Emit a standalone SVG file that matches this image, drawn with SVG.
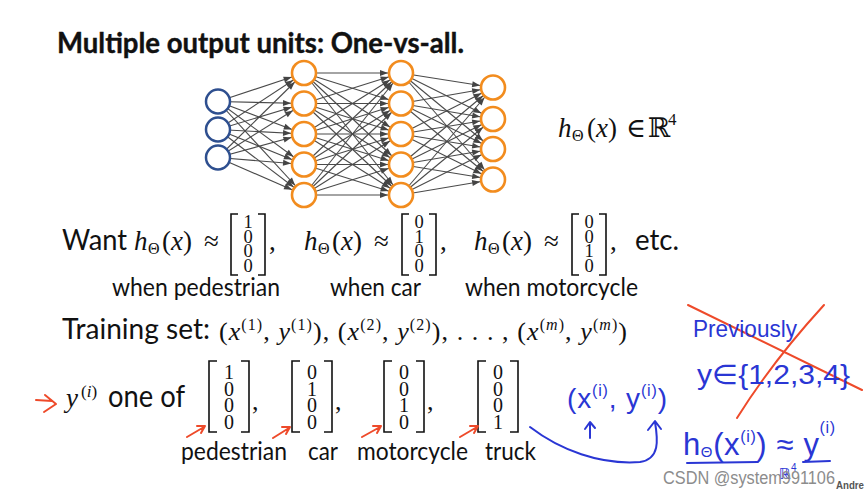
<svg xmlns="http://www.w3.org/2000/svg" width="865" height="496" viewBox="0 0 865 496">
<style>
.s{font-family:Lato,"Open Sans","Liberation Sans",sans-serif;fill:#111}
.m{font-family:"Liberation Serif","DejaVu Serif",serif;fill:#111}
.i{font-style:italic}
.e{stroke:#4a4a4a;stroke-width:1.1;marker-end:url(#ah)}
.in{fill:#fff;stroke:#2e4f8f;stroke-width:2.5}
.hd{fill:#fff;stroke:#f28c1e;stroke-width:2.6}
.br{fill:none;stroke:#111;stroke-width:1.6}
.d1{font-family:"Liberation Serif","DejaVu Serif",serif;font-size:18.5px;fill:#111;text-anchor:middle}
.d2{font-family:"Liberation Serif","DejaVu Serif",serif;font-size:20px;fill:#111;text-anchor:middle}
.hw{font-family:"Liberation Sans","DejaVu Sans",sans-serif;fill:#2a36d4}
.bl{fill:none;stroke:#2a36d4;stroke-width:2;stroke-linecap:round;stroke-linejoin:round}
.rd{fill:none;stroke:#ee4a2a;stroke-width:2;stroke-linecap:round;stroke-linejoin:round}
</style>
<defs>
<marker id="ah" markerUnits="userSpaceOnUse" markerWidth="8" markerHeight="6" refX="21" refY="3" orient="auto" overflow="visible"><path d="M0,0 L8,3 L0,6 z" fill="#444"/></marker>
</defs>
<rect width="865" height="496" fill="#fff"/>
<text class="s" x="57" y="53" font-size="28.5" font-weight="bold" textLength="407" lengthAdjust="spacingAndGlyphs" stroke="#111" stroke-width="0.4">Multiple output units: One-vs-all.</text>

<g id="connectors">
<line class="e" x1="218" y1="101.5" x2="304" y2="73"/><line class="e" x1="218" y1="101.5" x2="304" y2="103.5"/><line class="e" x1="218" y1="101.5" x2="304" y2="134"/><line class="e" x1="218" y1="101.5" x2="304" y2="164.5"/><line class="e" x1="218" y1="101.5" x2="304" y2="195"/>
<line class="e" x1="218" y1="129.5" x2="304" y2="73"/><line class="e" x1="218" y1="129.5" x2="304" y2="103.5"/><line class="e" x1="218" y1="129.5" x2="304" y2="134"/><line class="e" x1="218" y1="129.5" x2="304" y2="164.5"/><line class="e" x1="218" y1="129.5" x2="304" y2="195"/>
<line class="e" x1="218" y1="157.5" x2="304" y2="73"/><line class="e" x1="218" y1="157.5" x2="304" y2="103.5"/><line class="e" x1="218" y1="157.5" x2="304" y2="134"/><line class="e" x1="218" y1="157.5" x2="304" y2="164.5"/><line class="e" x1="218" y1="157.5" x2="304" y2="195"/>
<line class="e" x1="304" y1="73" x2="401" y2="73"/><line class="e" x1="304" y1="73" x2="401" y2="103.5"/><line class="e" x1="304" y1="73" x2="401" y2="134"/><line class="e" x1="304" y1="73" x2="401" y2="164.5"/><line class="e" x1="304" y1="73" x2="401" y2="195"/>
<line class="e" x1="304" y1="103.5" x2="401" y2="73"/><line class="e" x1="304" y1="103.5" x2="401" y2="103.5"/><line class="e" x1="304" y1="103.5" x2="401" y2="134"/><line class="e" x1="304" y1="103.5" x2="401" y2="164.5"/><line class="e" x1="304" y1="103.5" x2="401" y2="195"/>
<line class="e" x1="304" y1="134" x2="401" y2="73"/><line class="e" x1="304" y1="134" x2="401" y2="103.5"/><line class="e" x1="304" y1="134" x2="401" y2="134"/><line class="e" x1="304" y1="134" x2="401" y2="164.5"/><line class="e" x1="304" y1="134" x2="401" y2="195"/>
<line class="e" x1="304" y1="164.5" x2="401" y2="73"/><line class="e" x1="304" y1="164.5" x2="401" y2="103.5"/><line class="e" x1="304" y1="164.5" x2="401" y2="134"/><line class="e" x1="304" y1="164.5" x2="401" y2="164.5"/><line class="e" x1="304" y1="164.5" x2="401" y2="195"/>
<line class="e" x1="304" y1="195" x2="401" y2="73"/><line class="e" x1="304" y1="195" x2="401" y2="103.5"/><line class="e" x1="304" y1="195" x2="401" y2="134"/><line class="e" x1="304" y1="195" x2="401" y2="164.5"/><line class="e" x1="304" y1="195" x2="401" y2="195"/>
<line class="e" x1="401" y1="73" x2="493" y2="87.5"/><line class="e" x1="401" y1="73" x2="493" y2="119"/><line class="e" x1="401" y1="73" x2="493" y2="149"/><line class="e" x1="401" y1="73" x2="493" y2="179.5"/>
<line class="e" x1="401" y1="103.5" x2="493" y2="87.5"/><line class="e" x1="401" y1="103.5" x2="493" y2="119"/><line class="e" x1="401" y1="103.5" x2="493" y2="149"/><line class="e" x1="401" y1="103.5" x2="493" y2="179.5"/>
<line class="e" x1="401" y1="134" x2="493" y2="87.5"/><line class="e" x1="401" y1="134" x2="493" y2="119"/><line class="e" x1="401" y1="134" x2="493" y2="149"/><line class="e" x1="401" y1="134" x2="493" y2="179.5"/>
<line class="e" x1="401" y1="164.5" x2="493" y2="87.5"/><line class="e" x1="401" y1="164.5" x2="493" y2="119"/><line class="e" x1="401" y1="164.5" x2="493" y2="149"/><line class="e" x1="401" y1="164.5" x2="493" y2="179.5"/>
<line class="e" x1="401" y1="195" x2="493" y2="87.5"/><line class="e" x1="401" y1="195" x2="493" y2="119"/><line class="e" x1="401" y1="195" x2="493" y2="149"/><line class="e" x1="401" y1="195" x2="493" y2="179.5"/>
</g>

<g id="in1"><circle class="in" cx="218" cy="101.5" r="12"/></g>
<g id="in2"><circle class="in" cx="218" cy="129.5" r="12"/></g>
<g id="in3"><circle class="in" cx="218" cy="157.5" r="12"/></g>
<g id="h1a"><circle class="hd" cx="304" cy="73" r="12"/></g>
<g id="h1b"><circle class="hd" cx="304" cy="103.5" r="12"/></g>
<g id="h1c"><circle class="hd" cx="304" cy="134" r="12"/></g>
<g id="h1d"><circle class="hd" cx="304" cy="164.5" r="12"/></g>
<g id="h1e"><circle class="hd" cx="304" cy="195" r="12"/></g>
<g id="h2a"><circle class="hd" cx="401" cy="73" r="12"/></g>
<g id="h2b"><circle class="hd" cx="401" cy="103.5" r="12"/></g>
<g id="h2c"><circle class="hd" cx="401" cy="134" r="12"/></g>
<g id="h2d"><circle class="hd" cx="401" cy="164.5" r="12"/></g>
<g id="h2e"><circle class="hd" cx="401" cy="195" r="12"/></g>
<g id="o1"><circle class="hd" cx="493" cy="87.5" r="12"/></g>
<g id="o2"><circle class="hd" cx="493" cy="119" r="12"/></g>
<g id="o3"><circle class="hd" cx="493" cy="149" r="12"/></g>
<g id="o4"><circle class="hd" cx="493" cy="179.5" r="12"/></g>

<text class="m" font-size="27" y="137"><tspan x="558" class="i">h</tspan><tspan x="572" y="141" font-size="16">Θ</tspan><tspan x="587" y="137">(</tspan><tspan class="i">x</tspan><tspan>)</tspan><tspan x="626">∈</tspan><tspan x="648">ℝ</tspan><tspan x="668" y="125" font-size="17">4</tspan></text>

<text class="s" x="62" y="250" font-size="29" textLength="65" lengthAdjust="spacingAndGlyphs">Want</text>
<text class="m" font-size="27" y="250"><tspan x="134" class="i">h</tspan><tspan x="148" y="254" font-size="16">Θ</tspan><tspan x="162" y="250">(</tspan><tspan class="i">x</tspan><tspan>)</tspan><tspan x="204">≈</tspan><tspan x="269">,</tspan></text>
<text class="m" font-size="27" y="250"><tspan x="304" class="i">h</tspan><tspan x="318" y="254" font-size="16">Θ</tspan><tspan x="332" y="250">(</tspan><tspan class="i">x</tspan><tspan>)</tspan><tspan x="374">≈</tspan><tspan x="440">,</tspan></text>
<text class="m" font-size="27" y="250"><tspan x="474" class="i">h</tspan><tspan x="488" y="254" font-size="16">Θ</tspan><tspan x="502" y="250">(</tspan><tspan class="i">x</tspan><tspan>)</tspan><tspan x="544">≈</tspan><tspan x="610">,</tspan></text>
<text class="s" x="635" y="250" font-size="29" textLength="44" lengthAdjust="spacingAndGlyphs">etc.</text>

<path class="br" d="M238,214 H231 V275 H238 M258,214 H265 V275 H258"/>
<text class="d1"><tspan x="248" y="228">1</tspan><tspan x="248" y="242.5">0</tspan><tspan x="248" y="257">0</tspan><tspan x="248" y="271.5">0</tspan></text>
<path class="br" d="M409,214 H402 V275 H409 M429,214 H436 V275 H429"/>
<text class="d1"><tspan x="419" y="228">0</tspan><tspan x="419" y="242.5">1</tspan><tspan x="419" y="257">0</tspan><tspan x="419" y="271.5">0</tspan></text>
<path class="br" d="M579,214 H572 V275 H579 M599,214 H606 V275 H599"/>
<text class="d1"><tspan x="589" y="228">0</tspan><tspan x="589" y="242.5">0</tspan><tspan x="589" y="257">1</tspan><tspan x="589" y="271.5">0</tspan></text>

<text class="s" x="112" y="296" font-size="25" textLength="168" lengthAdjust="spacingAndGlyphs">when pedestrian</text>
<text class="s" x="330" y="296" font-size="25" textLength="91" lengthAdjust="spacingAndGlyphs">when car</text>
<text class="s" x="465" y="296" font-size="25" textLength="173" lengthAdjust="spacingAndGlyphs">when motorcycle</text>

<text class="s" x="62" y="339" font-size="29" textLength="148" lengthAdjust="spacingAndGlyphs">Training set:</text>
<text class="m" x="219" y="340" font-size="26" textLength="408" lengthAdjust="spacing">(<tspan class="i">x</tspan><tspan font-size="16" dy="-10">(1)</tspan><tspan dy="10">, </tspan><tspan class="i">y</tspan><tspan font-size="16" dy="-10">(1)</tspan><tspan dy="10">), (</tspan><tspan class="i">x</tspan><tspan font-size="16" dy="-10">(2)</tspan><tspan dy="10">, </tspan><tspan class="i">y</tspan><tspan font-size="16" dy="-10">(2)</tspan><tspan dy="10">), . . . , (</tspan><tspan class="i">x</tspan><tspan font-size="16" dy="-10">(<tspan class="i">m</tspan>)</tspan><tspan dy="10">, </tspan><tspan class="i">y</tspan><tspan font-size="16" dy="-10">(<tspan class="i">m</tspan>)</tspan><tspan dy="10">)</tspan></text>

<path class="rd" d="M36,400 L52,401 M45,395 L56,404 L44,412"/>
<text class="m" font-size="27" y="407"><tspan x="66" class="i">y</tspan><tspan x="81" y="397" font-size="17">(<tspan class="i">i</tspan>)</tspan></text>
<text class="s" x="108" y="407" font-size="30" textLength="77" lengthAdjust="spacingAndGlyphs">one of</text>

<path class="br" d="M217,361 H209 V432 H217 M241,361 H249 V432 H241"/>
<text class="d2"><tspan x="229" y="379">1</tspan><tspan x="229" y="395.5">0</tspan><tspan x="229" y="412">0</tspan><tspan x="229" y="428.5">0</tspan></text>
<text class="m" x="252" y="410" font-size="26">,</text>
<path class="br" d="M300,361 H292 V432 H300 M324,361 H332 V432 H324"/>
<text class="d2"><tspan x="312" y="379">0</tspan><tspan x="312" y="395.5">1</tspan><tspan x="312" y="412">0</tspan><tspan x="312" y="428.5">0</tspan></text>
<text class="m" x="335" y="410" font-size="26">,</text>
<path class="br" d="M392,361 H384 V432 H392 M416,361 H424 V432 H416"/>
<text class="d2"><tspan x="404" y="379">0</tspan><tspan x="404" y="395.5">0</tspan><tspan x="404" y="412">1</tspan><tspan x="404" y="428.5">0</tspan></text>
<text class="m" x="427" y="410" font-size="26">,</text>
<path class="br" d="M486,361 H478 V432 H486 M510,361 H518 V432 H510"/>
<text class="d2"><tspan x="498" y="379">0</tspan><tspan x="498" y="395.5">0</tspan><tspan x="498" y="412">0</tspan><tspan x="498" y="428.5">1</tspan></text>

<path class="rd" d="M187,437 L204,427 M197,426 L205,426 L201,433"/>
<path class="rd" d="M273,438 L289,428 M282,427 L290,427 L286,434"/>
<path class="rd" d="M362,437 L380,427 M373,426 L381,426 L377,433"/>
<path class="rd" d="M460,437 L477,427 M470,426 L478,426 L474,433"/>

<text class="s" x="181" y="460" font-size="25" textLength="106" lengthAdjust="spacingAndGlyphs">pedestrian</text>
<text class="s" x="308" y="460" font-size="25" textLength="30" lengthAdjust="spacingAndGlyphs">car</text>
<text class="s" x="357" y="460" font-size="25" textLength="111" lengthAdjust="spacingAndGlyphs">motorcycle</text>
<text class="s" x="485" y="460" font-size="25" textLength="51" lengthAdjust="spacingAndGlyphs">truck</text>

<path class="rd" d="M688,305 L862,390 M824,305 C792,340 762,378 737,418"/>
<text class="hw" x="693" y="337" font-size="24" textLength="104" lengthAdjust="spacingAndGlyphs">Previously</text>
<text class="hw" x="697" y="384" font-size="27" textLength="153" lengthAdjust="spacingAndGlyphs">y∈{1,2,3,4}</text>

<text class="hw" x="567" y="408" font-size="28" textLength="100" lengthAdjust="spacing">(x<tspan font-size="16" dy="-12">(i)</tspan><tspan dy="12">, y</tspan><tspan font-size="16" dy="-12">(i)</tspan><tspan dy="12">)</tspan></text>
<path class="bl" d="M590,438 L590,423 M585,429 L590,422 L595,428"/>
<path class="bl" d="M530,427 C560,450 600,465 640,462 C660,459 658,440 655,422 M648,430 L655,421 L661,429"/>

<text class="hw" x="683" y="455" font-size="31" textLength="152" lengthAdjust="spacing">h<tspan font-size="15" dy="2">Θ</tspan><tspan dy="-2">(x</tspan><tspan font-size="16" dy="-13">(i)</tspan><tspan dy="13">) ≈ y</tspan><tspan font-size="16" dy="-22">(i)</tspan></text>
<path class="bl" d="M687,463 L758,462 M803,462 L830,461"/>
<text class="hw" x="779" y="479" font-size="15">ℝ<tspan font-size="10" dy="-8">4</tspan></text>

<text x="663" y="484" font-family="Liberation Sans,sans-serif" font-size="18" fill="#8c8c8c" textLength="172" lengthAdjust="spacingAndGlyphs">CSDN @system991106</text>
<text x="836" y="489" font-family="Liberation Sans,sans-serif" font-size="10.5" font-weight="bold" fill="#555" textLength="28" lengthAdjust="spacingAndGlyphs">Andre</text>
</svg>
